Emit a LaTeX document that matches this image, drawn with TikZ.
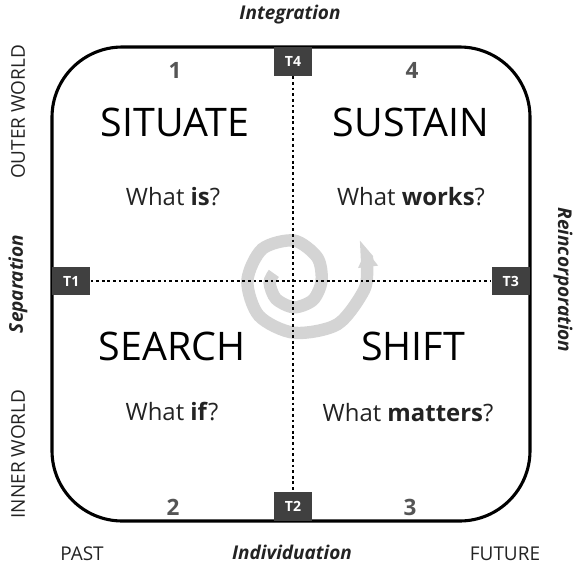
\documentclass[tikz,border=0pt]{standalone}
\usepackage{fontspec}
\setmainfont{Open Sans}
\usetikzlibrary{arrows.meta}
\definecolor{tbox}{RGB}{64,64,64}
\definecolor{numgray}{RGB}{85,85,85}
\definecolor{textdark}{RGB}{35,35,35}
\definecolor{spiralgray}{RGB}{212,212,212}
\begin{document}
\begin{tikzpicture}[x=0.025cm, y=-0.025cm,
	tlabel/.style={fill=tbox, text=white, font=\bfseries\fontsize{10}{12}\selectfont, minimum width=27pt, minimum height=20.5pt, inner sep=0pt},
	quadnum/.style={text=numgray, font=\bfseries\fontsize{16}{18}\selectfont},
	phase/.style={text=black, font=\fontsize{28}{32}\selectfont},
	question/.style={text=textdark, font=\fontsize{17}{20}\selectfont},
	axislabel/.style={text=textdark, font=\bfseries\itshape\fontsize{13.5}{16}\selectfont},
	sidelabel/.style={text=textdark, font=\fontsize{13.5}{16}\selectfont},
	crossline/.style={line width=2pt, dash pattern=on 2pt off 2pt}]
	\useasboundingbox (0,0) rectangle (574,567);
	\draw[line width=2.2pt, rounded corners=50pt] (52,47) rectangle (530,521);
	\draw[line width=8.8pt, spiralgray, -{Triangle[length=12pt, width=13.5pt]}, shift={(294,284)}, scale=1.06, shift={(-294,-284)}] plot[smooth] coordinates {(275,274) (271,283) (277,298) (294,306) (312,299) (320,281) (316,259) (294,243) (264,251) (250,281) (261,314) (294,330) (335,322) (360,290) (363,268) (362,252)};
	\node[tlabel, anchor=west] (t1) at (52,281) {T1};
	\node[tlabel, anchor=east] (t3) at (530,281) {T3};
	\node[tlabel, anchor=north] (t4) at (293,47) {T4};
	\node[tlabel, anchor=south] (t2) at (293,521) {T2};
	\draw[crossline] (t1) -- (t3);
	\draw[crossline] (t4) -- (t2);
	\node[quadnum] (n1) at (175,70) {1};
	\node[quadnum] (n4) at (412,70) {4};
	\node[quadnum] (n2) at (173,507) {2};
	\node[quadnum] (n3) at (410,507) {3};
	\node[phase] (situate) at (175,122) {SITUATE};
	\node[phase] (sustain) at (411,122) {SUSTAIN};
	\node[phase] (search) at (172,346) {SEARCH};
	\node[phase] (shift) at (413,346) {SHIFT};
	\node[question] (qis) at (173,197) {What \textbf{is}?};
	\node[question] (qworks) at (411,197) {What \textbf{works}?};
	\node[question] (qif) at (172,412) {What \textbf{if}?};
	\node[question] (qmatters) at (408,413) {What \textbf{matters}?};
	\node[axislabel] (integration) at (290,15) {Integration};
	\node[axislabel] (individuation) at (292,552) {Individuation};
	\node[axislabel, rotate=90] (separation) at (18,284) {Separation};
	\node[axislabel, rotate=-90] (reincorporation) at (563,280) {Reincorporation};
	\node[sidelabel, rotate=90] (outer) at (18,112) {OUTER WORLD};
	\node[sidelabel, rotate=90] (inner) at (18,454) {INNER WORLD};
	\node[sidelabel] (past) at (82,554) {PAST};
	\node[sidelabel] (future) at (505,554) {FUTURE};
\end{tikzpicture}
\end{document}
